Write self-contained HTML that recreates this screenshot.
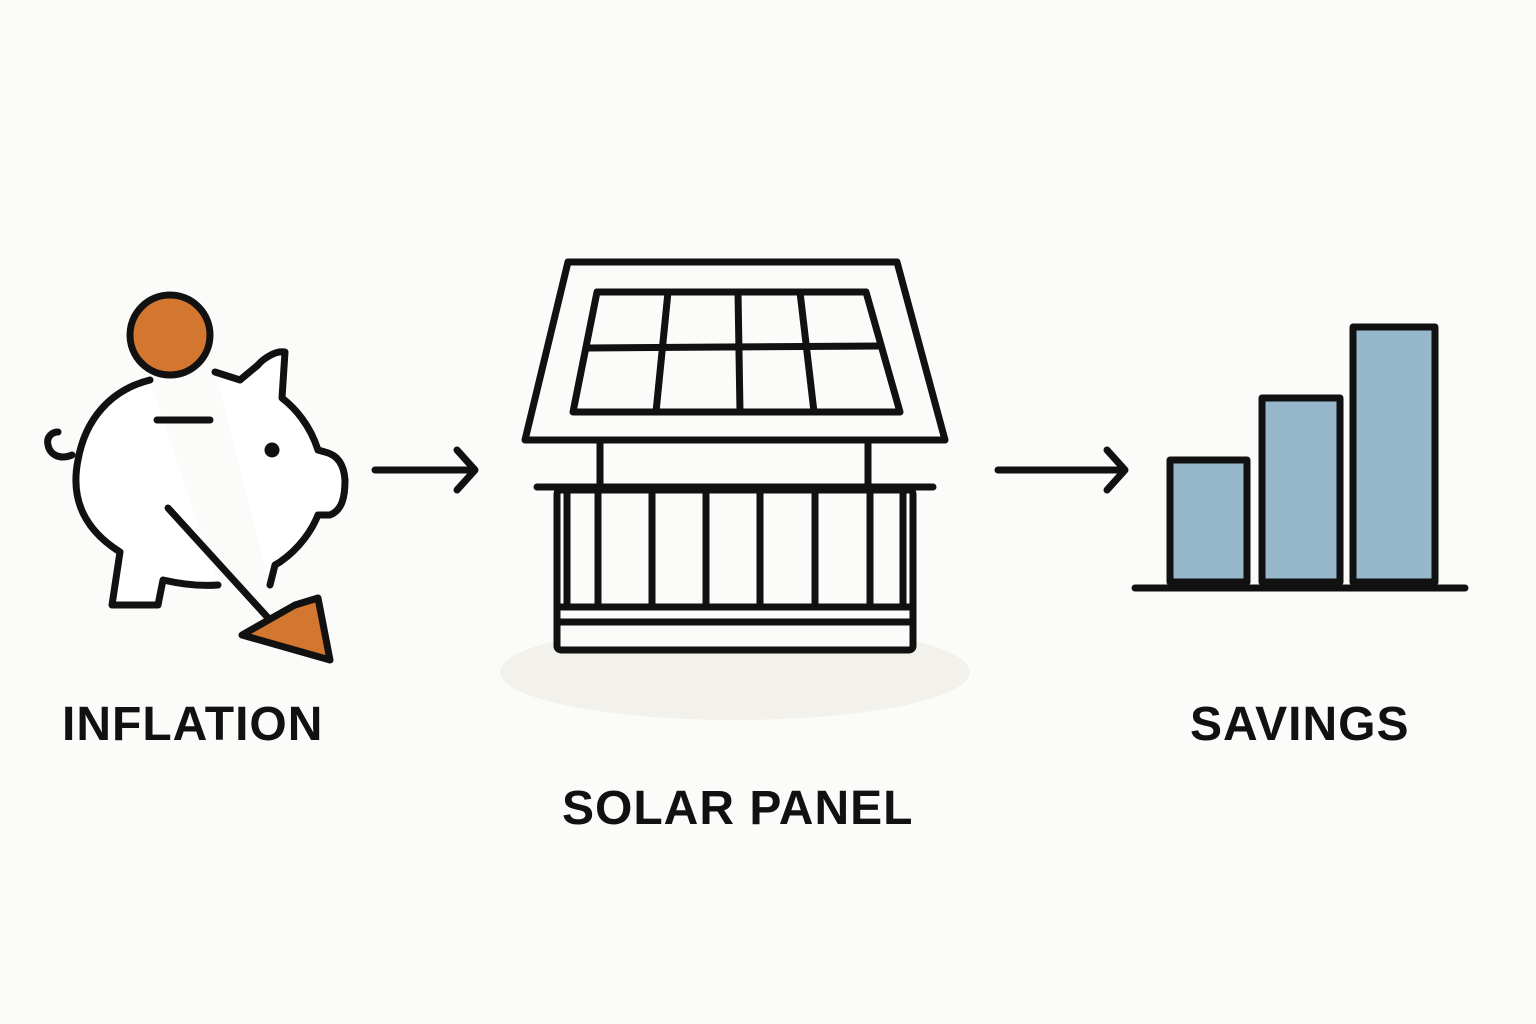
<!DOCTYPE html>
<html><head><meta charset="utf-8"><style>
html,body{margin:0;padding:0;background:#fbfbf9;}
svg{display:block}
text{font-family:"Liberation Sans",sans-serif;font-weight:bold;fill:#111;}
</style></head><body>
<svg width="1536" height="1024" viewBox="0 0 1536 1024" xmlns="http://www.w3.org/2000/svg">
<rect width="1536" height="1024" fill="#fbfbf9"/>
<ellipse cx="735" cy="672" rx="235" ry="48" fill="#f3f1ec"/>
<g fill="none" stroke="#111" stroke-width="7" stroke-linecap="round" stroke-linejoin="round">
<!-- piggy -->
<path d="M150,380 C110,390 85,420 78,460 C70,500 85,530 120,552 L112,605 L158,605 L163,580 C185,585 205,586 218,585 M270,585 L275,565 L280,562 C300,548 312,530 318,515 L330,515 C343,510 345,495 345,480 C344,465 338,455 325,452 L318,450 C310,425 295,408 282,398 L285,352 C275,350 262,360 258,365 L240,380 L215,372" fill="#fff"/>
<path d="M72,455 C60,460 50,455 48,445 C46,437 52,432 58,432"/>
<line x1="157" y1="420" x2="210" y2="420"/>
<circle cx="272" cy="450" r="4" fill="#111"/>
<circle cx="170" cy="335" r="40" fill="#d37730"/>
<line x1="168" y1="508" x2="270" y2="620"/>
<path d="M295,605 L318,598 L330,660 L242,635 Z" fill="#d37730"/>
<!-- arrows -->
<path d="M375,470 L475,470 M457,450 L475,470 L457,490"/>
<path d="M998,470 L1125,470 M1107,450 L1125,470 L1107,490"/>
<!-- roof -->
<path d="M568,262 L897,262 L945,440 L525,440 Z" fill="#fbfbf9"/>
<path d="M597,292 L866,292 L900,412 L573,412 Z"/>
<path d="M588,348 L880,346"/>
<path d="M668,292 L656,412 M738,292 L740,412 M800,292 L814,412"/>
<!-- house -->
<path d="M600,442 L600,485 M868,442 L868,485"/>
<path d="M537,487 L933,487"/>
<rect x="557" y="490" width="356" height="160" rx="4" fill="#fbfbf9"/>
<path d="M567,490 L567,607 M598,490 L598,607 M652,490 L652,607 M706,490 L706,607 M760,490 L760,607 M815,490 L815,607 M870,490 L870,607 M903,490 L903,607"/>
<path d="M557,607 L913,607 M557,622 L913,622"/>
<!-- bars -->
<rect x="1170" y="460" width="77" height="122" fill="#97b7cb"/>
<rect x="1262" y="398" width="78" height="184" fill="#97b7cb"/>
<rect x="1353" y="327" width="82" height="255" fill="#97b7cb"/>
<path d="M1135,588 L1465,588"/>
</g>
<text x="62" y="740" font-size="48" letter-spacing="1">INFLATION</text>
<text x="562" y="824" font-size="48" letter-spacing="1">SOLAR PANEL</text>
<text x="1190" y="740" font-size="48" letter-spacing="1">SAVINGS</text>
</svg>
</body></html>
